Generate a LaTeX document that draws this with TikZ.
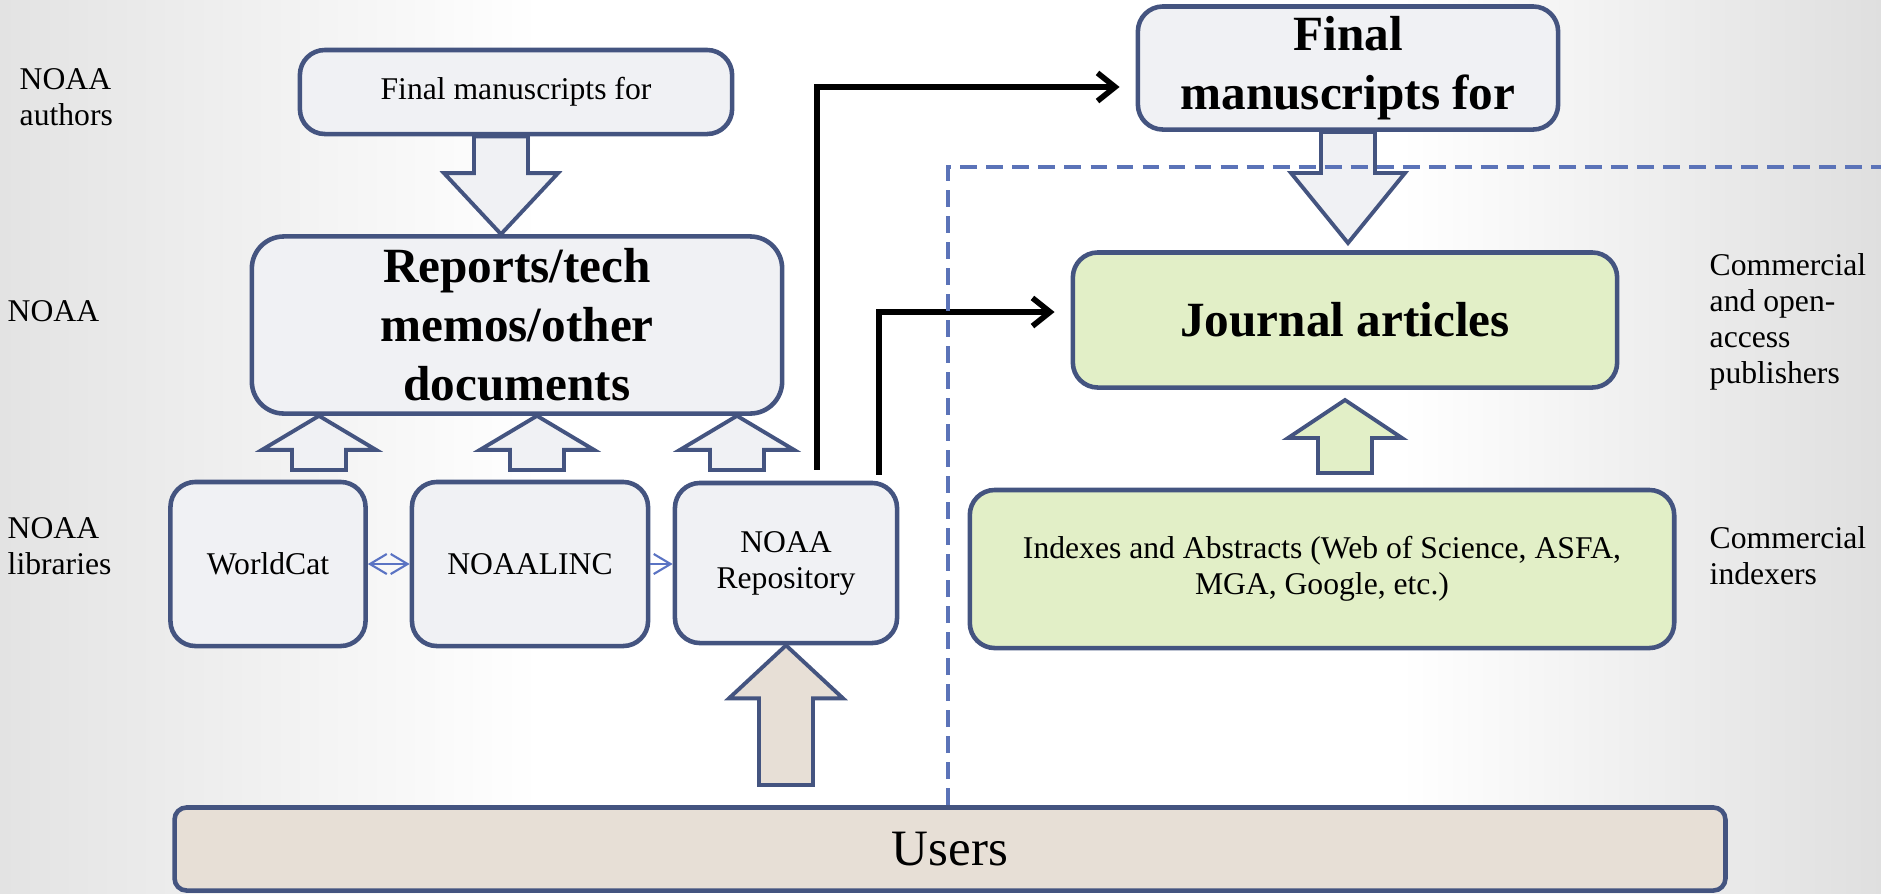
\documentclass[tikz,border=0pt]{standalone}
\usepackage{fontspec}
\setmainfont{Liberation Serif}
\usetikzlibrary{arrows.meta,calc}

\definecolor{boxblue}{RGB}{68,84,128}
\definecolor{boxgray}{RGB}{240,241,244}
\definecolor{jgreen}{RGB}{226,239,199}
\definecolor{userbeige}{RGB}{231,223,214}
\definecolor{dashblue}{RGB}{91,115,184}
\definecolor{linkblue}{RGB}{90,115,195}

\tikzset{
  box/.style={draw=boxblue, line width=1.3pt, rounded corners=0.25cm, fill=boxgray,
    align=center, inner sep=2pt, font=\fontsize{9}{10.2}\selectfont},
  bigtext/.style={font=\fontsize{14}{16.8}\selectfont\bfseries},
  side/.style={anchor=west, align=left, inner sep=0pt, font=\fontsize{9}{10.2}\selectfont},
  fatarrow/.style={draw=boxblue, line width=1.1pt, fill=boxgray, line join=miter},
  flow/.style={line width=1.6pt, -{Straight Barb[length=5pt,width=8pt]}},
  link/.style={draw=linkblue, line width=0.6pt, >={Straight Barb[length=4.8pt,width=5.7pt]}},
  divider/.style={draw=dashblue, line width=0.9pt, dash pattern=on 4.8pt off 2.6pt}
}

% block arrow from #2 to #3, head length #4
\newcommand{\fatarrow}[4][]{%
  \draw[fatarrow,#1] let \p1=(#2), \p2=(#3), \n1={\y2-ifthenelse(\y2>\y1,1,-1)*#4} in
    (\x2-0.27cm,\y1) -- (\x2-0.27cm,\n1*1pt) -- (\x2-0.57cm,\n1*1pt)
    -- (\x2,\y2) -- (\x2+0.57cm,\n1*1pt) -- (\x2+0.27cm,\n1*1pt)
    -- (\x2+0.27cm,\y1) -- cycle;}

\begin{document}
\begin{tikzpicture}[x=0.01cm, y=-0.01cm]
  \useasboundingbox (0,0) rectangle (1881,893);
  \shade[left color=gray!22, right color=white] (0,0) rectangle (540,893);
  \shade[left color=white, right color=gray!25] (1400,0) rectangle (1881,893);

  % NOAA side
  \node[box, minimum width=4.32cm, minimum height=0.84cm] (fm) at (516,92) {Final manuscripts for};
  \node[box, bigtext, minimum width=5.30cm, minimum height=1.77cm, rounded corners=0.32cm] (rpt) at (517,325)
    {Reports/tech\\memos/other\\documents};
  \node[box, minimum width=1.95cm, minimum height=1.64cm] (wc) at (268,564) {WorldCat};
  \node[box, minimum width=2.36cm, minimum height=1.64cm] (nl) at (530,564) {NOAALINC};
  \node[box, minimum width=2.22cm, minimum height=1.60cm] (repo) at (786,563) {NOAA\\Repository};

  % publishers side
  \node[box, bigtext, minimum width=4.20cm, minimum height=1.23cm] (fmj) at (1348,68) {Final\\manuscripts for};
  \node[box, bigtext, fill=jgreen, minimum width=5.44cm, minimum height=1.35cm] (ja) at (1345,320) {Journal articles};
  \node[box, fill=jgreen, minimum width=7.04cm, minimum height=1.58cm] (ix) at (1322,569)
    {Indexes and Abstracts (Web of Science, ASFA,\\MGA, Google, etc.)};
  \node[box, fill=userbeige, minimum width=15.5cm, minimum height=0.83cm, rounded corners=0.12cm,
    font=\fontsize{14.5}{17}\selectfont] (users) at (950,849) {Users};

  % row labels
  \node[side] (la) at (19,97) {NOAA\\authors};
  \node[side] (ln) at (7,311) {NOAA};
  \node[side] (ll) at (7,546) {NOAA\\libraries};
  \node[side] (rp) at (1709,322) {Commercial\\and open-\\access\\publishers};
  \node[side] (ri) at (1709,556) {Commercial\\indexers};

  % block arrows
  \fatarrow{501,0 |- fm.south}{501,0 |- rpt.north}{0.61cm}
  \foreach \ax in {319,537,737}
    {\fatarrow{\ax,470}{\ax,0 |- rpt.south}{0.34cm}}
  \fatarrow[fill=userbeige]{repo.south |- 0,785}{repo.south}{0.53cm}
  \fatarrow{fmj.south}{fmj.south |- 0,243}{0.70cm}
  \fatarrow[fill=jgreen]{ja.south |- 0,473}{ja.south |- 0,400}{0.38cm}

  % library links
  \draw[link, <->] (wc.east) -- (wc.east -| nl.west);
  \draw[link, ->] (nl.east) -- (nl.east -| repo.west);

  % repository to publishers
  \draw[flow] ([shift={(31,-11)}]repo.north) |- ([shift={(-16,19)}]fmj.west);
  \draw[flow] ([shift={(93,-6)}]repo.north) |- ([shift={(-16,-8)}]ja.west);

  % divider
  \draw[divider] (948,0 |- users.north) -- (948,167) -- (1881,167);
\end{tikzpicture}
\end{document}
